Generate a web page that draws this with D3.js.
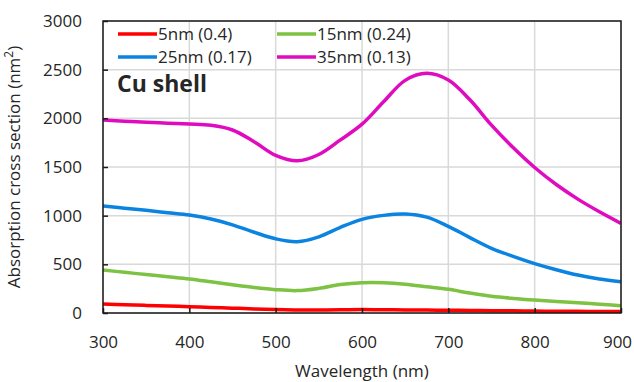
<!DOCTYPE html>
<html>
<head>
<meta charset="utf-8">
<script src="https://cdn.jsdelivr.net/npm/d3@7"></script>
<style>
  body { margin: 0; background: #fff; }
  text { font-family: 'Open Sans', 'Noto Sans', sans-serif; fill: #262626; }
</style>
</head>
<body>
<div id="chart"></div>
<script>
let margin = { top: 21, left: 103, right: 13, bottom: 69 }
let width = 634 - margin.left - margin.right
let height = 382 - margin.top - margin.bottom

// wavelengths (nm)
let wavelengths = [300, 325, 350, 375, 400, 425, 450, 475, 500, 525, 550, 575, 600,
  625, 650, 675, 700, 725, 750, 775, 800, 825, 850, 875, 900]

let series5 = [92, 85, 78, 72, 65, 57, 50, 42, 35, 31, 31, 33, 35,
  34, 32, 30, 28, 26, 24, 22, 20, 18, 17, 16, 15]
let series15 = [442, 418, 395, 372, 349, 320, 290, 262, 240, 230, 253, 292, 311,
  311, 296, 270, 243, 205, 172, 150, 133, 119, 106, 90, 75]
let series25 = [1099, 1077, 1055, 1030, 1006, 965, 906, 830, 762, 733, 783, 880, 962,
  1003, 1017, 985, 890, 775, 665, 582, 508, 445, 390, 350, 321]
let series35 = [1982, 1970, 1960, 1950, 1941, 1928, 1880, 1760, 1620, 1563, 1628, 1778, 1940,
  2170, 2390, 2462, 2393, 2190, 1930, 1700, 1495, 1320, 1170, 1040, 921]

let names = ['5nm (0.4)', '15nm (0.24)', '25nm (0.17)', '35nm (0.13)']
let colors = ['#ff0000', '#7dc242', '#0a84e0', '#e00bbf']
let allSeries = [series5, series15, series25, series35]

let xTicks = [300, 400, 500, 600, 700, 800, 900]
let yTicks = [0, 500, 1000, 1500, 2000, 2500, 3000]

let svg = d3
  .select('#chart')
  .append('svg')
  .attr('width', 634)
  .attr('height', 382)
  .append('g')
  .attr('transform', 'translate(' + margin.left + ',' + margin.top + ')')

let x = d3.scaleLinear().domain([300, 900]).range([0, width])
let y = d3.scaleLinear().domain([0, 3000]).range([height, 0])

// gridlines
svg
  .selectAll('.vgrid')
  .data(xTicks)
  .enter()
  .append('line')
  .attr('x1', d => x(d))
  .attr('x2', d => x(d))
  .attr('y1', 0)
  .attr('y2', height)
  .attr('stroke', '#d9d9d9')
  .attr('stroke-width', 1.5)

svg
  .selectAll('.hgrid')
  .data(yTicks)
  .enter()
  .append('line')
  .attr('x1', 0)
  .attr('x2', width)
  .attr('y1', d => y(d))
  .attr('y2', d => y(d))
  .attr('stroke', '#d9d9d9')
  .attr('stroke-width', 1.5)

let line = d3
  .line()
  .x((d, i) => x(wavelengths[i]))
  .y(d => y(d))
  .curve(d3.curveCatmullRom.alpha(0.5))

svg
  .append('defs')
  .append('clipPath')
  .attr('id', 'clip')
  .append('rect')
  .attr('width', width)
  .attr('height', height)

svg
  .append('g')
  .attr('clip-path', 'url(#clip)')
  .selectAll('path')
  .data(allSeries)
  .enter()
  .append('path')
  .attr('d', d => line(d))
  .attr('fill', 'none')
  .attr('stroke', (d, i) => colors[i])
  .attr('stroke-width', 3.5)
  .attr('stroke-linejoin', 'round')

// frame
svg
  .append('rect')
  .attr('width', width)
  .attr('height', height)
  .attr('fill', 'none')
  .attr('stroke', '#1a1a1a')
  .attr('stroke-width', 1.5)

let xAxis = d3
  .axisBottom(x)
  .tickValues(xTicks)
  .tickFormat(d3.format('d'))
  .tickSize(-5)
  .tickPadding(23)
let yAxis = d3
  .axisLeft(y)
  .tickValues(yTicks)
  .tickFormat(d3.format('d'))
  .tickSize(-5)
  .tickPadding(21)

svg
  .append('g')
  .attr('class', 'axis x-axis')
  .attr('transform', 'translate(0,' + height + ')')
  .call(xAxis)

svg
  .append('g')
  .attr('class', 'axis y-axis')
  .call(yAxis)

svg.selectAll('.axis .domain').remove()
svg.selectAll('.axis line').attr('stroke', '#1a1a1a').attr('stroke-width', 1.5)
svg
  .selectAll('.axis text')
  .attr('font-size', 17)
  .attr('fill', '#262626')
  .style('font-family', "'Open Sans', sans-serif")

// keep the last x label inside the window
svg
  .selectAll('.x-axis .tick text')
  .filter(d => d === 900)
  .attr('dx', -4)

// legend
let legend = svg
  .selectAll('.legend')
  .data(names)
  .enter()
  .append('g')
  .attr('transform', (d, i) => {
    let lx = i % 2 === 0 ? 15 : 174
    let ly = i < 2 ? 13 : 36
    return 'translate(' + lx + ',' + ly + ')'
  })

legend
  .append('line')
  .attr('x1', 0)
  .attr('x2', 39)
  .attr('stroke', (d, i) => colors[i])
  .attr('stroke-width', 3.5)

legend
  .append('text')
  .attr('x', 40)
  .attr('dy', '0.35em')
  .attr('font-size', 17)
  .text(d => d)

svg
  .append('text')
  .attr('x', 14)
  .attr('y', 71)
  .attr('font-size', 23)
  .attr('font-weight', 'bold')
  .attr('fill', '#000')
  .text('Cu shell')

// axis titles
svg
  .append('text')
  .attr('x', width / 2)
  .attr('y', height + 64)
  .attr('text-anchor', 'middle')
  .attr('font-size', 17)
  .text('Wavelength (nm)')

let yTitle = svg
  .append('text')
  .attr('transform', 'translate(-83,' + height / 2 + ') rotate(-90)')
  .attr('text-anchor', 'middle')
  .attr('font-size', 17)

yTitle.append('tspan').text('Absorption cross section (nm')
yTitle.append('tspan').attr('dy', -7).attr('font-size', 12).text('2')
yTitle.append('tspan').attr('dy', 7).text(')')
</script>
</body>
</html>
